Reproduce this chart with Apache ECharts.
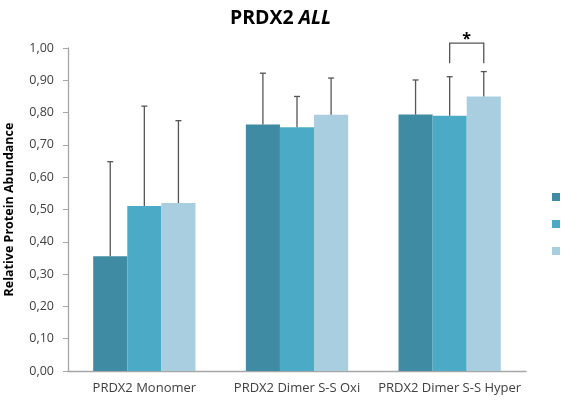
<!DOCTYPE html>
<html>
<head>
<meta charset="utf-8">
<script src="https://cdn.jsdelivr.net/npm/echarts@6/dist/echarts.min.js"></script>
<style>
  html, body { margin: 0; padding: 0; background: #fff; }
  #chart { width: 561px; height: 400px; }
</style>
</head>
<body>
<div id="chart"></div>
<script>
const categories = ['PRDX2 Monomer', 'PRDX2 Dimer S-S Oxi', 'PRDX2 Dimer S-S Hyper']
const seriesNames = ['Group 1', 'Group 2', 'Group 3']
const means1 = [0.355, 0.763, 0.794]
const means2 = [0.511, 0.755, 0.790]
const means3 = [0.520, 0.793, 0.850]
const upper1 = [0.648, 0.922, 0.901]
const upper2 = [0.820, 0.850, 0.911]
const upper3 = [0.775, 0.907, 0.927]
// significance bracket: category, from series, to series, top value, leg bottom
const sigBracket = [[2, 1, 2, 1.015, 0.953]]
const colors = ['#3e8ba3', '#4babc7', '#a9cee0']

const chart = echarts.init(document.getElementById('chart'))

const catGap = 0.33
function barOffset(api, s) {
  const bandW = api.size([1, 0])[0]
  const bw = bandW * (1 - catGap) / 3
  return (s - 1) * bw
}

function errorSeries(means, uppers, s) {
  return {
    type: 'custom',
    silent: true,
    z: 5,
    data: means.map((m, i) => [i, m, uppers[i]]),
    renderItem: (params, api) => {
      const x = api.coord([api.value(0), 0])[0] + barOffset(api, s)
      const y0 = api.coord([api.value(0), api.value(1)])[1]
      const y1 = api.coord([api.value(0), api.value(2)])[1]
      const st = { stroke: '#555', lineWidth: 1.3 }
      return {
        type: 'group',
        children: [
          { type: 'line', shape: { x1: x, y1: y0, x2: x, y2: y1 }, style: st },
          { type: 'line', shape: { x1: x - 3, y1: y1, x2: x + 3, y2: y1 }, style: st }
        ]
      }
    }
  }
}

const bars = [means1, means2, means3].map((d, s) => ({
  name: seriesNames[s],
  type: 'bar',
  data: d,
  barGap: '0%',
  barCategoryGap: '33%',
  itemStyle: { color: colors[s] }
}))

const option = {
  animation: false,
  title: {
    text: 'PRDX2 {i|ALL}',
    left: 'center',
    top: 3,
    textStyle: {
      fontFamily: 'Open Sans',
      fontSize: 19.5,
      fontWeight: 'bold',
      color: '#000',
      rich: { i: { fontFamily: 'Open Sans', fontSize: 19.5, fontWeight: 'bold', fontStyle: 'italic', color: '#000' } }
    }
  },
  legend: {
    orient: 'vertical',
    left: 547,
    top: 188,
    itemWidth: 8,
    itemHeight: 8,
    itemGap: 19,
    icon: 'rect',
    data: seriesNames,
    formatter: () => '',
    textStyle: { fontSize: 1 }
  },
  grid: { left: 68, right: 35, top: 48, bottom: 29, outerBoundsMode: 'none' },
  xAxis: {
    type: 'category',
    data: categories,
    axisLine: { lineStyle: { color: '#a6a6a6', width: 1.3 } },
    axisTick: { show: false },
    axisLabel: { interval: 0, hideOverlap: false, fontFamily: 'Open Sans', fontSize: 13, color: '#404040', margin: 11 }
  },
  yAxis: {
    type: 'value',
    min: 0,
    max: 1,
    interval: 0.1,
    name: 'Relative Protein Abundance',
    nameLocation: 'middle',
    nameGap: 52,
    nameTextStyle: { fontFamily: 'Open Sans', fontSize: 12.5, fontWeight: 'bold', color: '#000' },
    axisLine: { show: true, lineStyle: { color: '#a6a6a6', width: 1.3 } },
    axisTick: { show: true, length: 5, lineStyle: { color: '#a6a6a6' } },
    splitLine: { show: false },
    axisLabel: {
      fontFamily: 'Open Sans', fontSize: 12.5, color: '#404040', margin: 14,
      formatter: v => v.toFixed(2).replace('.', ',')
    }
  },
  series: [
    ...bars,
    errorSeries(means1, upper1, 0),
    errorSeries(means2, upper2, 1),
    errorSeries(means3, upper3, 2),
    {
      type: 'custom',
      silent: true,
      z: 6,
      data: sigBracket,
      renderItem: (params, api) => {
        const c = api.value(0)
        const xa = api.coord([c, 0])[0] + barOffset(api, api.value(1))
        const xb = api.coord([c, 0])[0] + barOffset(api, api.value(2))
        const yt = api.coord([c, api.value(3)])[1]
        const yb = api.coord([c, api.value(4)])[1]
        const st = { stroke: '#555', lineWidth: 1.3, fill: null }
        return {
          type: 'group',
          children: [
            { type: 'polyline', shape: { points: [[xa, yb], [xa, yt], [xb, yt], [xb, yb]] }, style: st },
            { type: 'text', x: (xa + xb) / 2, y: yt - 4, style: { text: '*', fontFamily: 'Open Sans', fontSize: 16, fontWeight: 'bold', fill: '#000', align: 'center', verticalAlign: 'middle' } }
          ]
        }
      }
    }
  ]
}

chart.setOption(option)
</script>
</body>
</html>
